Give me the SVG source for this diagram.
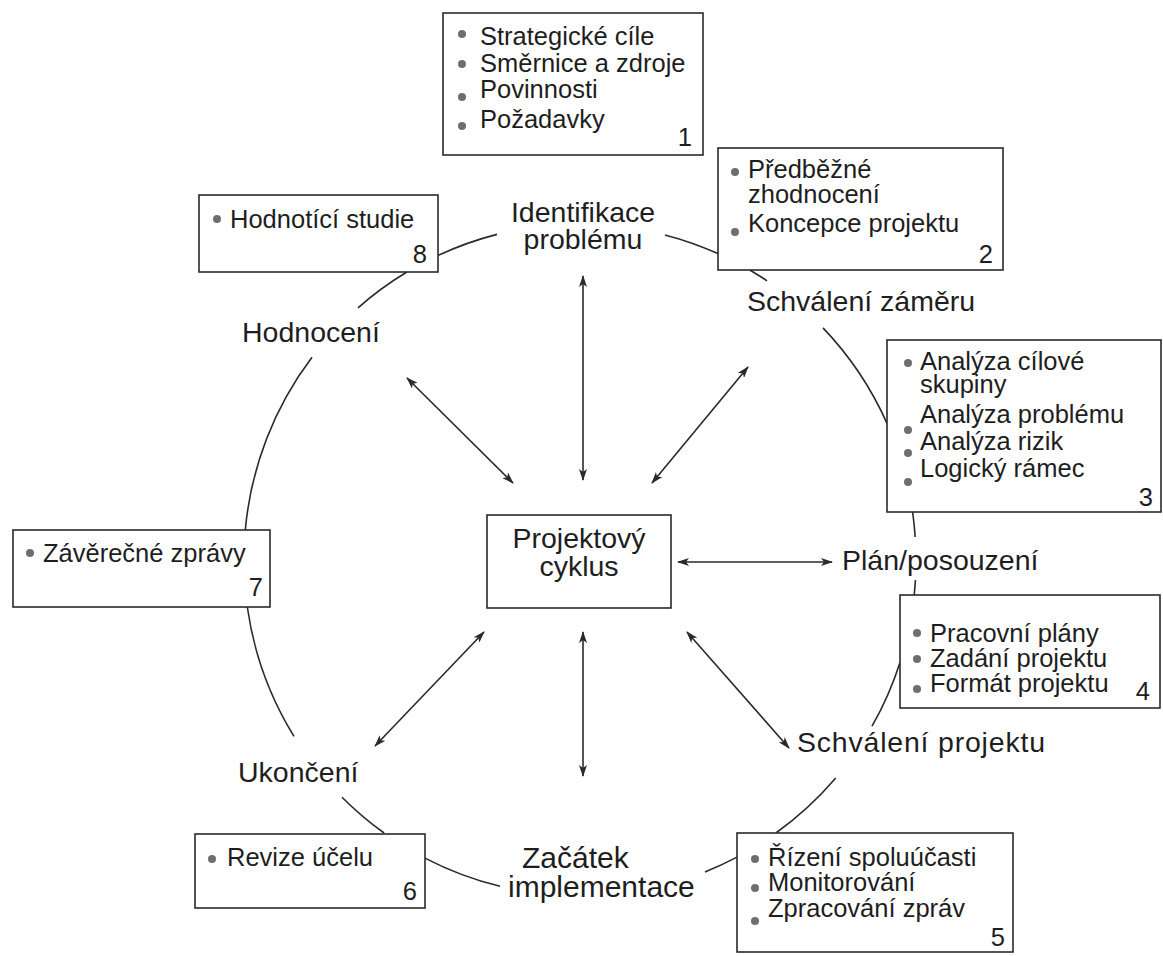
<svg xmlns="http://www.w3.org/2000/svg" width="1163" height="956" viewBox="0 0 1163 956">
<defs>
<style>
.box{fill:#fff;stroke:#2a2a2a;stroke-width:1.6}
.t{font-family:"Liberation Sans",Arial,Helvetica,sans-serif;font-size:25.5px;fill:#1e1e1e}
.lab{font-family:"Liberation Sans",Arial,Helvetica,sans-serif;font-size:28.5px;fill:#1e1e1e}
.big{font-size:30px}
.num{text-anchor:end}
.b{fill:#6e6e6e}
.arc{fill:none;stroke:#2a2a2a;stroke-width:1.6}
.arr{fill:none;stroke:#2a2a2a;stroke-width:1.6;marker-start:url(#ah);marker-end:url(#ah)}
</style>
<marker id="ah" viewBox="0 0 12 8" refX="11" refY="4" markerWidth="12" markerHeight="8" markerUnits="userSpaceOnUse" orient="auto-start-reverse">
<path d="M0,0 L12,4 L0,8 L3,4 Z" fill="#2a2a2a"/>
</marker>
</defs>
<rect width="1163" height="956" fill="#fff"/>

<g id="connectors">
<path class="arc" d="M438,255.5 A336,336 0 0 1 497,234.4"/>
<path class="arc" d="M665,234.9 A336,336 0 0 1 718,253.6"/>
<path class="arc" d="M749.7,270 A336,336 0 0 1 767,280.8"/>
<path class="arc" d="M823,327.9 A336,336 0 0 1 887,423.4"/>
<path class="arc" d="M912.6,512 A336,336 0 0 1 915.2,537"/>
<path class="arc" d="M915.4,580 A336,336 0 0 1 914.2,595"/>
<path class="arc" d="M900,662.4 A336,336 0 0 1 872,726.2"/>
<path class="arc" d="M835.7,778 A336,336 0 0 1 775.9,833"/>
<path class="arc" d="M737,857.1 A336,336 0 0 1 705,871.9"/>
<path class="arc" d="M500,886.3 A336,336 0 0 1 425,858.1"/>
<path class="arc" d="M384.1,833 A336,336 0 0 1 342,797.2"/>
<path class="arc" d="M294,736.4 A336,336 0 0 1 247.3,607"/>
<path class="arc" d="M245.3,530 A336,336 0 0 1 312,357.3"/>
<path class="arc" d="M358,307.8 A336,336 0 0 1 406.9,272"/>
<line class="arr" x1="583" y1="276" x2="583" y2="480"/>
<line class="arr" x1="652" y1="483" x2="748" y2="367"/>
<line class="arr" x1="513" y1="483" x2="407" y2="378"/>
<line class="arr" x1="678" y1="562" x2="832" y2="562"/>
<line class="arr" x1="687" y1="632" x2="789" y2="748"/>
<line class="arr" x1="583" y1="632" x2="583" y2="776"/>
<line class="arr" x1="484" y1="632" x2="375" y2="746"/>
</g>

<g id="center">
<rect class="box" x="487" y="515" width="184" height="93"/>
<text class="lab" x="579" y="548" text-anchor="middle">Projektový</text>
<text class="lab" x="579" y="576" text-anchor="middle">cyklus</text>
</g>

<g id="box1">
<rect class="box" x="443" y="13" width="260" height="142"/>
<circle class="b" cx="462" cy="34" r="4"/><text class="t" x="480" y="45">Strategické cíle</text>
<circle class="b" cx="462" cy="64" r="4"/><text class="t" x="480" y="72">Směrnice a zdroje</text>
<circle class="b" cx="462" cy="97" r="4"/><text class="t" x="480" y="98">Povinnosti</text>
<circle class="b" cx="462" cy="126" r="4"/><text class="t" x="480" y="128">Požadavky</text>
<text class="t num" x="692" y="146">1</text>
</g>

<g id="box2">
<rect class="box" x="718" y="148" width="285" height="122"/>
<circle class="b" cx="735" cy="172" r="4"/><text class="t" x="748" y="178">Předběžné</text>
<text class="t" x="748" y="203">zhodnocení</text>
<circle class="b" cx="735" cy="232" r="4"/><text class="t" x="748" y="232">Koncepce projektu</text>
<text class="t num" x="993" y="263">2</text>
</g>

<g id="box3">
<rect class="box" x="887" y="340" width="274" height="172"/>
<circle class="b" cx="908" cy="363" r="4"/><text class="t" x="920" y="370">Analýza cílové</text>
<text class="t" x="920" y="393">skupiny</text>
<circle class="b" cx="908" cy="430" r="4"/><text class="t" x="920" y="423">Analýza problému</text>
<circle class="b" cx="908" cy="453" r="4"/><text class="t" x="920" y="450">Analýza rizik</text>
<circle class="b" cx="908" cy="482" r="4"/><text class="t" x="920" y="477">Logický rámec</text>
<text class="t num" x="1153" y="506">3</text>
</g>

<g id="box4">
<rect class="box" x="900" y="595" width="260" height="113"/>
<circle class="b" cx="917" cy="633" r="4"/><text class="t" x="930" y="642">Pracovní plány</text>
<circle class="b" cx="917" cy="659" r="4"/><text class="t" x="930" y="667">Zadání projektu</text>
<circle class="b" cx="917" cy="689" r="4"/><text class="t" x="930" y="692">Formát projektu</text>
<text class="t num" x="1150" y="700">4</text>
</g>

<g id="box5">
<rect class="box" x="737" y="833" width="276" height="119"/>
<circle class="b" cx="755" cy="859" r="4"/><text class="t" x="768" y="866">Řízení spoluúčasti</text>
<circle class="b" cx="755" cy="888" r="4"/><text class="t" x="768" y="891">Monitorování</text>
<circle class="b" cx="755" cy="921" r="4"/><text class="t" x="768" y="917">Zpracování zpráv</text>
<text class="t num" x="1005" y="946">5</text>
</g>

<g id="box6">
<rect class="box" x="195" y="834" width="230" height="74"/>
<circle class="b" cx="212" cy="859" r="4"/><text class="t" x="227" y="866">Revize účelu</text>
<text class="t num" x="417" y="900">6</text>
</g>

<g id="box7">
<rect class="box" x="13" y="530" width="257" height="77"/>
<circle class="b" cx="30" cy="553" r="4"/><text class="t" x="43" y="562">Závěrečné zprávy</text>
<text class="t num" x="263" y="596">7</text>
</g>

<g id="box8">
<rect class="box" x="199" y="195" width="239" height="77"/>
<circle class="b" cx="217" cy="219" r="4"/><text class="t" x="230" y="228">Hodnotící studie</text>
<text class="t num" x="427" y="263">8</text>
</g>

<g id="labels">
<text class="lab" x="583" y="222" text-anchor="middle">Identifikace</text>
<text class="lab" x="583" y="249" text-anchor="middle">problému</text>
<text class="lab" x="747" y="311">Schválení záměru</text>
<text class="lab" x="242" y="342">Hodnocení</text>
<text class="lab" x="842" y="570">Plán/posouzení</text>
<text class="lab" x="797" y="752" textLength="248" lengthAdjust="spacing">Schválení projektu</text>
<text class="lab" x="238" y="782">Ukončení</text>
<text class="lab big" x="522" y="868">Začátek</text>
<text class="lab big" x="508" y="897">implementace</text>
</g>
</svg>
